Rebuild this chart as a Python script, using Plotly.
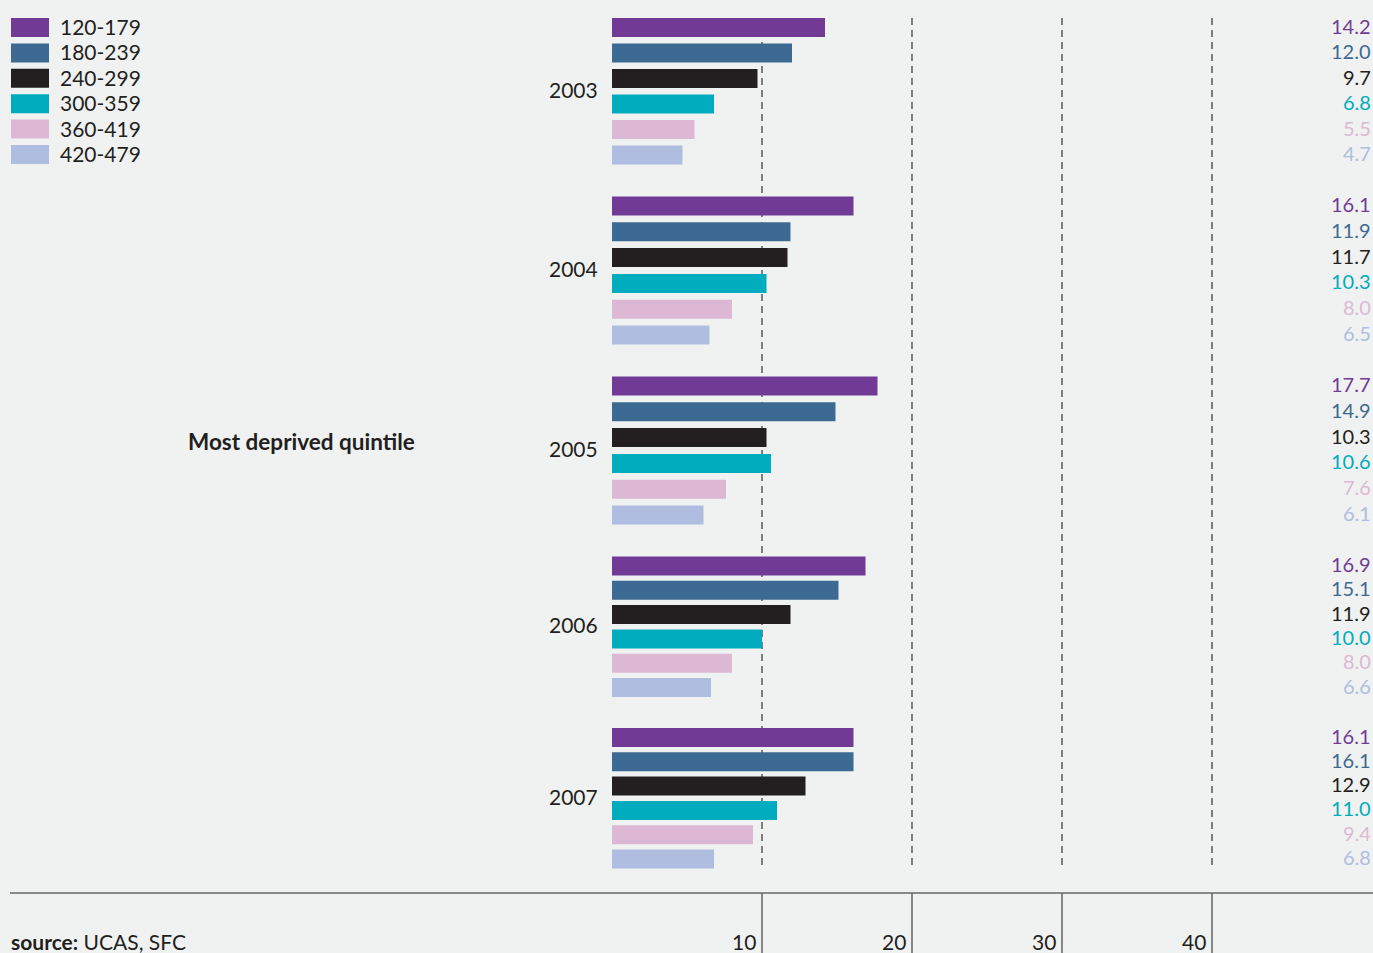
import plotly.graph_objects as go

# ---- data -----------------------------------------------------------------
years = ["2003", "2004", "2005", "2006", "2007"]
bands = ["120-179", "180-239", "240-299", "300-359", "360-419", "420-479"]

band_120_179 = [14.2, 16.1, 17.7, 16.9, 16.1]
band_180_239 = [12.0, 11.9, 14.9, 15.1, 16.1]
band_240_299 = [9.7, 11.7, 10.3, 11.9, 12.9]
band_300_359 = [6.8, 10.3, 10.6, 10.0, 11.0]
band_360_419 = [5.5, 8.0, 7.6, 8.0, 9.4]
band_420_479 = [4.7, 6.5, 6.1, 6.6, 6.8]

x_ticks = [10, 20, 30, 40]
side_label = "Most deprived quintile"
source_text = "<b>source:</b> UCAS, SFC"

series = [band_120_179, band_180_239, band_240_299,
          band_300_359, band_360_419, band_420_479]
colors = ["#713b95", "#3d6a93", "#231f20", "#00acbd", "#ddb8d5", "#afbde0"]

# ---- layout constants (pixel geometry) -------------------------------------
W, H = 1373, 953
X0_PX = 612          # where value 0 sits
PX_PER_UNIT = 15.0
GROUP_TOPS = [27.5, 206, 386, 566, 737.5]   # centre of first bar in each group
BAR_STEPS = [25.5, 25.8, 25.8, 24.3, 24.3]  # spacing of bars inside a group
BAR_THICK = 19
GRID_TOP, GRID_BOTTOM = 18, 868
RULE_Y = 893
FONT = "Lato"
TEXT_COLOR = "#231f20"
FS = 21

x_range = [-X0_PX / PX_PER_UNIT, (W - X0_PX) / PX_PER_UNIT]


def bar_center(g, i):
    return GROUP_TOPS[g] + i * BAR_STEPS[g]


def px(xp):
    return xp / W


fig = go.Figure()

for i, (name, vals, col) in enumerate(zip(bands, series, colors)):
    fig.add_trace(go.Bar(
        x=vals,
        y=[bar_center(g, i) for g in range(len(years))],
        orientation="h",
        width=BAR_THICK,
        marker=dict(color=col, line=dict(width=0)),
        name=name,
        showlegend=False,
        hoverinfo="x+name",
    ))

shapes = []
annotations = []

# dashed reference lines and the solid ticks under the rule
for t in x_ticks:
    shapes.append(dict(type="line", xref="x", yref="y", x0=t, x1=t,
                       y0=GRID_TOP, y1=GRID_BOTTOM, layer="below",
                       line=dict(color="#3f3f3f", width=1.3, dash="7px,5px")))
    shapes.append(dict(type="line", xref="x", yref="y", x0=t, x1=t,
                       y0=RULE_Y, y1=H, layer="below",
                       line=dict(color="#3f3f3f", width=1.2)))
    annotations.append(dict(xref="x", yref="paper", x=t, y=0, text=str(t),
                            xanchor="right", yanchor="bottom", xshift=-5,
                            yshift=-2, borderpad=0, showarrow=False,
                            font=dict(family=FONT, size=FS, color=TEXT_COLOR)))

# horizontal rule above the axis labels
shapes.append(dict(type="line", xref="paper", yref="y", x0=px(10), x1=1,
                   y0=RULE_Y, y1=RULE_Y, line=dict(color="#666666", width=1.5)))

# value labels on the right and year labels on the left of each group
for g, yr in enumerate(years):
    for i, (vals, col) in enumerate(zip(series, colors)):
        annotations.append(dict(xref="paper", yref="y", x=px(1372),
                                y=bar_center(g, i), text=f"{vals[g]:.1f}",
                                xanchor="right", yanchor="middle", yshift=2,
                                borderpad=0, showarrow=False,
                                font=dict(family=FONT, size=20, color=col)))
    mid = (bar_center(g, 2) + bar_center(g, 3)) / 2 - 1
    annotations.append(dict(xref="paper", yref="y", x=px(600), y=mid,
                            text=yr, xanchor="right", yanchor="middle",
                            yshift=1, showarrow=False,
                            font=dict(family=FONT, size=FS, color=TEXT_COLOR)))

# legend drawn as swatches + labels
for i, (name, col) in enumerate(zip(bands, colors)):
    yc = 27.5 + i * 25.4
    shapes.append(dict(type="rect", xref="paper", yref="y",
                       x0=px(11), x1=px(49), y0=yc - 9.5, y1=yc + 9.5,
                       fillcolor=col, line=dict(width=0)))
    annotations.append(dict(xref="paper", yref="y", x=px(59), y=yc,
                            text=name, xanchor="left", yanchor="middle",
                            yshift=1, borderpad=0, showarrow=False,
                            font=dict(family=FONT, size=FS, color=TEXT_COLOR)))

annotations.append(dict(xref="paper", yref="y", x=px(301), y=441,
                        text=f"<b>{side_label}</b>", xanchor="center",
                        yanchor="middle", showarrow=False,
                        font=dict(family=FONT, size=22.5, color=TEXT_COLOR)))
annotations.append(dict(xref="paper", yref="paper", x=px(10), y=0,
                        text=source_text, xanchor="left", yanchor="bottom",
                        yshift=-2, borderpad=0, showarrow=False,
                        font=dict(family=FONT, size=FS, color=TEXT_COLOR)))

fig.update_layout(
    width=W, height=H,
    margin=dict(l=0, r=0, t=0, b=0),
    paper_bgcolor="#f0f2f1",
    plot_bgcolor="#f0f2f1",
    barmode="overlay",
    xaxis=dict(range=x_range, visible=False, fixedrange=True),
    yaxis=dict(range=[H, 0], visible=False, fixedrange=True),
    shapes=shapes,
    annotations=annotations,
)

fig.write_html("out.html")
